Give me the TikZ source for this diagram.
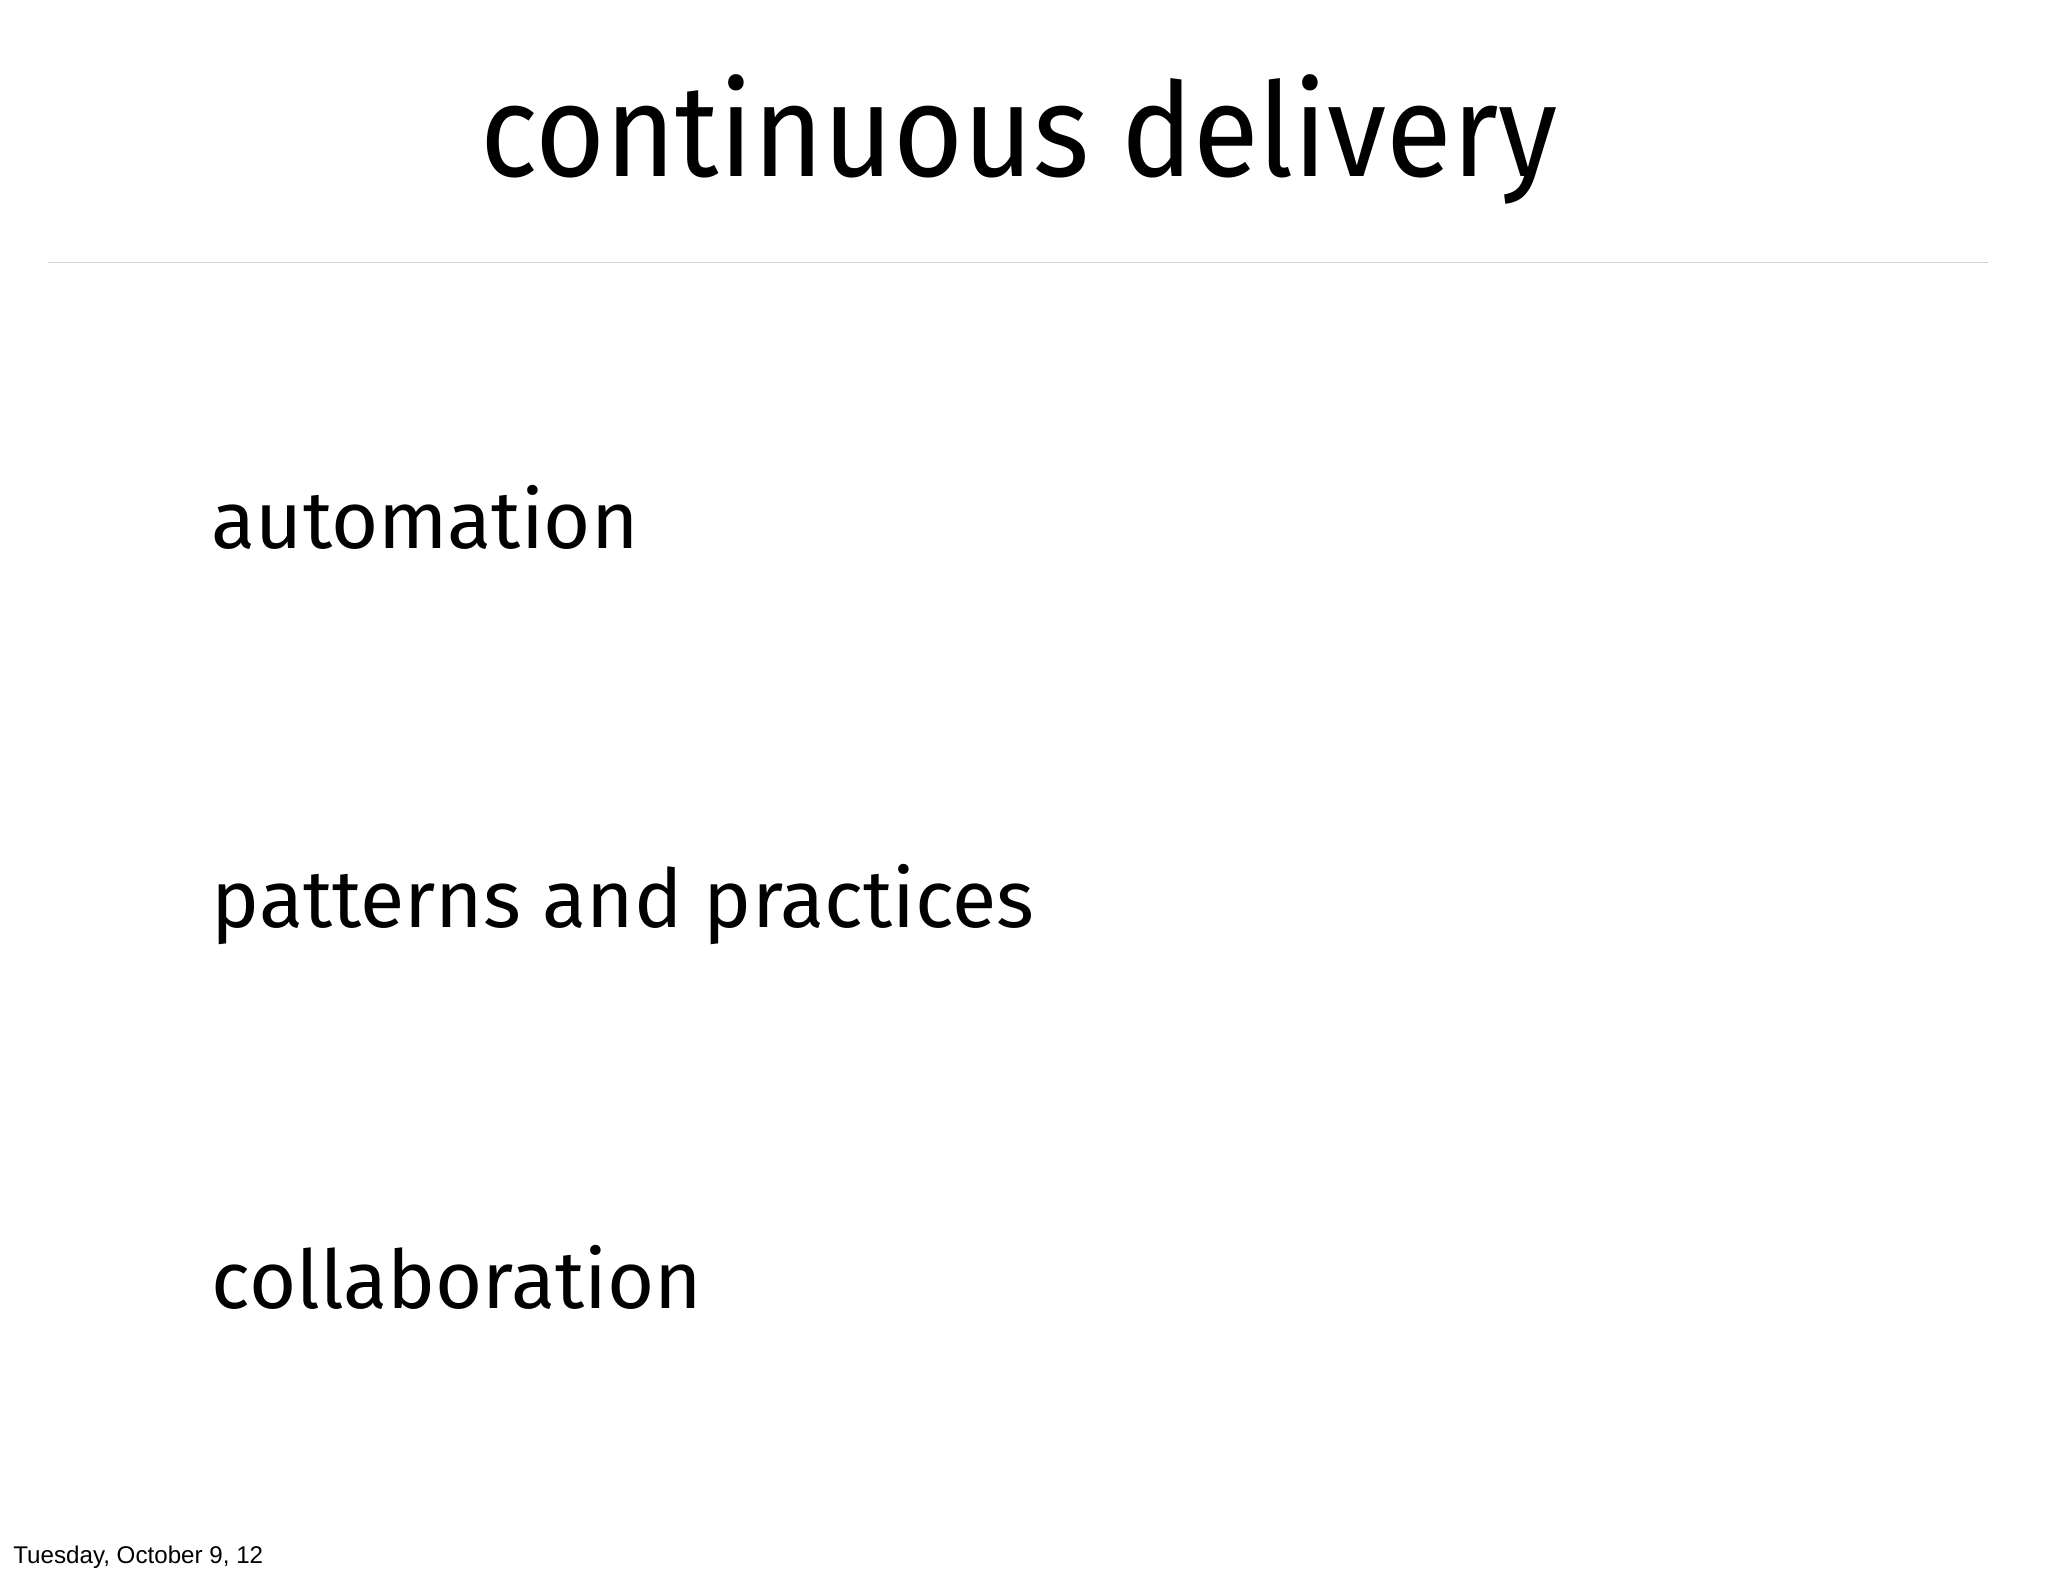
\documentclass[tikz,border=0pt]{standalone}
\usepackage{fontspec}
\setmainfont{Fira Sans}
\newfontfamily\titlefont[FakeStretch=0.92]{Fira Sans}
\newfontfamily\footfont{Liberation Sans}
\begin{document}
\begin{tikzpicture}[x=1pt,y=-1pt,
  txt/.style={inner sep=0pt,anchor=base west},
  body/.style={txt,font=\fontsize{62}{66}\selectfont}]
\useasboundingbox (0,0) rectangle (1568,1206);
\node[inner sep=0pt,anchor=base,font=\titlefont\fontsize{100}{110}\selectfont] (title) at (780,135) {continuous delivery};
\coordinate (l1) at (37,201);
\coordinate (l2) at (1522,201);
\draw[line width=1.2pt,black!18] (l1) -- (l2);
\node[body] (a) at (162,420) {automation};
\node[body] (p) at (162,710) {patterns and practices};
\node[body] (c) at (162,1002) {collaboration};
\node[txt,font=\footfont\fontsize{18.5}{20}\selectfont] (f) at (10,1197) {Tuesday, October 9, 12};
\end{tikzpicture}
\end{document}
